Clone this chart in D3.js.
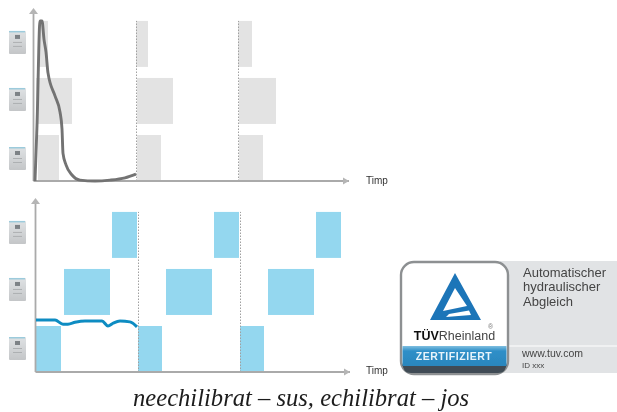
<!DOCTYPE html>
<html><head><meta charset="utf-8">
<script src="https://cdn.jsdelivr.net/npm/d3@7"></script>
<style>html,body{margin:0;background:#fff}svg{display:block}</style></head>
<body><svg id="c" width="617" height="412"></svg>
<script>
// time in px-like units from the axis origin; level 0..3.48 (rows)
const axisLabel = "Timp";
const caption = "neechilibrat – sus, echilibrat – jos";
const certLines = ["Automatischer","hydraulischer","Abgleich"];
const certFoot = ["www.tuv.com","ID  xxx"];
const rows = [[0,1],[1.24,2.24],[2.48,3.48]];
const topBars = [
 [0,4,25],[1,2,38],[2,5,14],
 [0,103,127],[1,103,139],[2,102,114],
 [0,205,229],[1,205,242],[2,204,218]];
const bottomBars = [
 [0,0,25],[1,28,74],[2,76,101],
 [0,102,126],[1,130,176],[2,178,203],
 [0,204,228],[1,232,278],[2,280,305]];
const dividers = [102.5,204.5];
const greyT = [1,3,6,8,10,12,14,21,26,28,29,32,38,46,61,76,91,102];
const greyV = [0,1.2,3.48,3.48,3.08,2.8,2.35,1.85,1.5,1.13,.6,.35,.13,.02,0,.02,.07,.15];
const blueT = [0,19,27,32,39,49,66,72,77,84,94,101];
const blueV = [1.13,1.13,1.04,1.04,1.08,1.11,1.11,1,1.06,1.11,1.09,.98];

const svg = d3.select("#c");
const defs = svg.append("defs");
defs.append("filter").attr("id","b").append("feGaussianBlur").attr("stdDeviation",.7);
defs.append("filter").attr("id","b2").append("feGaussianBlur").attr("stdDeviation",.55);
defs.append("filter").attr("id","b3").append("feGaussianBlur").attr("stdDeviation",.3);
const grad = defs.append("linearGradient").attr("id","ic").attr("x1",0).attr("x2",0).attr("y1",0).attr("y2",1);
grad.append("stop").attr("offset",0).attr("stop-color","#dfe2e4");
grad.append("stop").attr("offset",1).attr("stop-color","#c4c6c8");
const band = defs.append("linearGradient").attr("id","bd").attr("x1",0).attr("x2",0).attr("y1",0).attr("y2",1);
band.append("stop").attr("offset",0).attr("stop-color","#7fbfe0");
band.append("stop").attr("offset",.25).attr("stop-color","#2f8fc8");
band.append("stop").attr("offset",1).attr("stop-color","#2a86bd");

const rowH = 46;
function chart(opts){
  const g = svg.append("g").attr("filter","url(#b)");
  const x = d3.scaleLinear().domain([0,336]).range([opts.x0, opts.x0+336]);
  const y = d3.scaleLinear().domain([0,1]).range([opts.y0, opts.y0-rowH]);
  g.selectAll("rect.bar").data(opts.bars).join("rect").attr("class","bar")
    .attr("x",d=>x(d[1])).attr("width",d=>x(d[2])-x(d[1]))
    .attr("y",d=>y(rows[d[0]][1])).attr("height",d=>y(rows[d[0]][0])-y(rows[d[0]][1]))
    .attr("fill",opts.fill);
  g.selectAll("line.div").data(dividers).join("line").attr("class","div")
    .attr("x1",d=>x(d)).attr("x2",d=>x(d)).attr("y1",opts.y0).attr("y2",opts.y0-rowH*3.48)
    .attr("stroke","#a0a0a0").attr("stroke-width",1).attr("stroke-dasharray","1.5 1.5");
  const axisG = g.append("g").attr("stroke","#aaaaaa").attr("stroke-width",1.8).attr("fill","none");
  axisG.append("line").attr("x1",opts.x0-.5).attr("x2",opts.x0-.5).attr("y1",opts.y0).attr("y2",opts.yTop+4);
  axisG.append("line").attr("x1",opts.x0-.5).attr("x2",opts.xEnd).attr("y1",opts.y0).attr("y2",opts.y0);
  const ax = opts.x0-.5, ay=opts.y0;
  g.append("path").attr("d",`M${ax-4.5} ${opts.yTop+6}L${ax} ${opts.yTop}L${ax+4.5} ${opts.yTop+6}Z`).attr("fill","#b5b5b5");
  g.append("path").attr("d",`M${opts.xEnd-6} ${ay-3.5}L${opts.xEnd} ${ay}L${opts.xEnd-6} ${ay+3.5}Z`).attr("fill","#b5b5b5");
  const line = d3.line().x(d=>x(d[0])).y(d=>y(d[1])).curve(d3.curveMonotoneX);
  g.append("path").datum(d3.zip(opts.lineT,opts.lineV)).attr("d",line)
    .attr("fill","none").attr("stroke",opts.lineColor).attr("stroke-width",opts.lineW).attr("stroke-linejoin","round");
  g.append("text").text(axisLabel).attr("x",366).attr("y",opts.labelY)
    .attr("font-family","Liberation Sans").attr("font-size",10).attr("fill","#333");
  const ic = g.selectAll("g.icon").data(rows).join("g").attr("class","icon")
    .attr("transform",(d,i)=>`translate(9,${y(d[1])+opts.iconShift+(i===0?2:0)})`);
  ic.append("rect").attr("width",17).attr("height",23).attr("rx",1).attr("fill","url(#ic)");
  ic.append("rect").attr("width",16).attr("height",1.5).attr("fill","#9ccbdc");
  ic.append("rect").attr("x",6).attr("y",4).attr("width",5).attr("height",4).attr("fill","#7d8286");
  ic.append("rect").attr("x",4).attr("y",11).attr("width",9).attr("height",1).attr("fill","#adb0b2");
  ic.append("rect").attr("x",4).attr("y",15).attr("width",9).attr("height",1).attr("fill","#adb0b2");
}
chart({x0:34,y0:181,yTop:8,xEnd:349,labelY:184,bars:topBars,fill:"#e3e3e3",lineT:greyT,lineV:greyV,lineColor:"#737373",lineW:2.9,iconShift:10});
chart({x0:36,y0:372,yTop:198,xEnd:350,labelY:374,bars:bottomBars,fill:"#94d7ef",lineT:blueT,lineV:blueV,lineColor:"#118cc2",lineW:3,iconShift:9});

// certificate badge
const b = svg.append("g").attr("filter","url(#b2)").attr("font-family","Liberation Sans");
b.append("rect").attr("x",500).attr("y",261).attr("width",117).attr("height",112).attr("fill","#e1e3e5");
b.append("line").attr("x1",508).attr("x2",617).attr("y1",346).attr("y2",346).attr("stroke","#fff");
b.append("rect").attr("x",401).attr("y",262).attr("width",107).attr("height",112).attr("rx",13)
  .attr("fill","#fff").attr("stroke","#8d9092").attr("stroke-width",2.4);
b.append("rect").attr("x",402.5).attr("y",346).attr("width",104).attr("height",20).attr("fill","url(#bd)");
b.append("path").attr("d","M402.5 366H506.5V363Q506.5 373 498 373H411Q402.5 373 402.5 363Z").attr("fill","#3f4b55");
b.append("path").attr("d","M455 273L481 320H430ZM455 288L443 311L467 306ZM446 317L471 315L469 310.5L449 314Z")
  .attr("fill","#1f75b8").attr("fill-rule","evenodd");
const tv = b.append("text").attr("x",454.5).attr("y",340).attr("text-anchor","middle").attr("font-size",12.5).attr("fill","#444");
tv.append("tspan").text("TÜV").attr("font-weight","bold").attr("fill","#111");
tv.append("tspan").text("Rheinland");
b.append("text").text("®").attr("x",488).attr("y",329).attr("font-size",7).attr("fill","#777");
b.append("text").text("ZERTIFIZIERT").attr("x",454).attr("y",359.5).attr("text-anchor","middle")
  .attr("font-size",10.5).attr("font-weight","bold").attr("letter-spacing",.55).attr("fill","#e8f4fb");
b.selectAll("text.c").data(certLines).join("text").attr("class","c").text(d=>d)
  .attr("x",523).attr("y",(d,i)=>[277,291,306][i]).attr("font-size",13).attr("fill","#444");
b.selectAll("text.f").data(certFoot).join("text").attr("class","f").text(d=>d)
  .attr("x",522).attr("y",(d,i)=>[357,368][i]).attr("font-size",(d,i)=>[10.5,8][i]).attr("fill","#444");

svg.append("text").text(caption).attr("x",133).attr("y",405.5).attr("filter","url(#b3)")
  .attr("font-family","Liberation Serif").attr("font-style","italic").attr("font-size",24.6).attr("fill","#1c1c1c");
</script></body></html>
